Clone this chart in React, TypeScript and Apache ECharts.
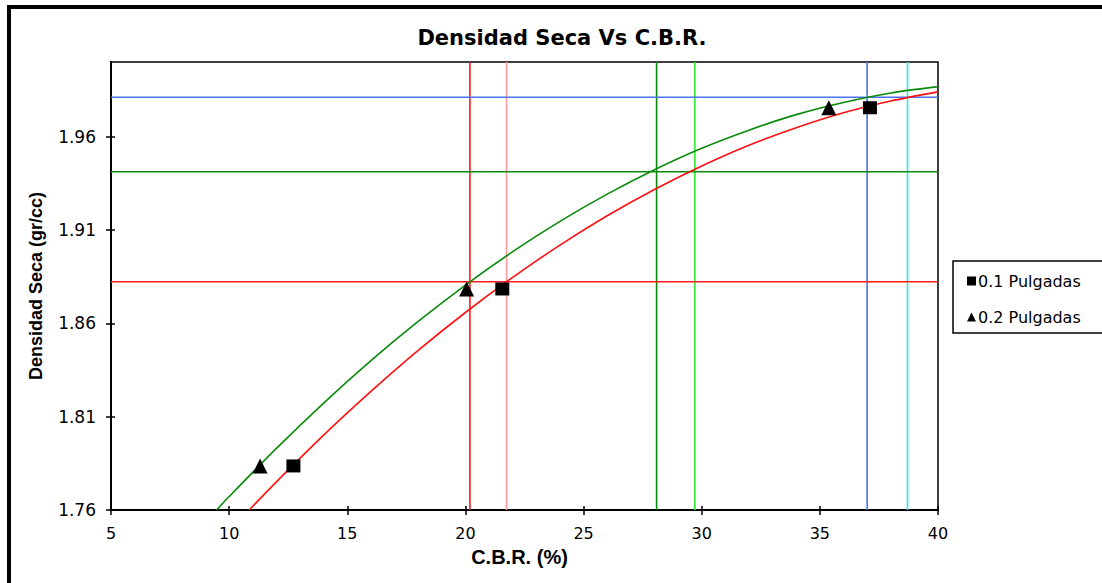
import React, { useEffect, useRef } from "react";
import * as echarts from "echarts";

// Axis ranges and tick labels
const X_MIN = 5;
const X_MAX = 40;
const X_INTERVAL = 5;
const Y_MIN = 1.76;
const Y_MAX = 2.0;
const yTickValues = [1.76, 1.81, 1.86, 1.91, 1.96];

// Measured points
const cbr01 = [12.72, 21.56, 37.12];
const dens01 = [1.7836, 1.8784, 1.9755];
const cbr02 = [11.31, 20.05, 35.38];
const dens02 = [1.7836, 1.8784, 1.9755];

// Trend curves
const curveX01 = [10.85, 12, 14, 16, 18, 20, 22, 24, 26, 28, 30, 32, 34, 36, 38, 40];
const curveY01 = [1.76, 1.7751, 1.8001, 1.8235, 1.8455, 1.8658, 1.8846, 1.9019, 1.9176, 1.9317, 1.9443, 1.9554, 1.9648, 1.9728, 1.9791, 1.984];
const curveX02 = [9.47, 10, 12, 14, 16, 18, 20, 22, 24, 26, 28, 30, 32, 34, 36, 38, 40];
const curveY02 = [1.76, 1.7672, 1.793, 1.8173, 1.84, 1.861, 1.8805, 1.8984, 1.9146, 1.9292, 1.9423, 1.9538, 1.9635, 1.9718, 1.9783, 1.9834, 1.9868];

// Reference lines
const vLineX = [20.19, 21.74, 28.09, 29.71, 37.0, 38.71];
const vLineColors = ["#ff1a1a", "#ff9a9a", "#0a8a0a", "#2ee82e", "#4a72ee", "#22eef0"];
const hLineY = [1.8823, 1.9412, 1.9811];
const hLineColors = ["#ff1a1a", "#0a8a0a", "#4a72ee"];

const FONT = "DejaVu Sans";

export default function App() {
  const ref = useRef<HTMLDivElement>(null);

  useEffect(() => {
    if (!ref.current) return;
    const chart = echarts.init(ref.current, undefined, { renderer: "svg" });

    const refSeries: any[] = [];
    vLineX.forEach((x, i) => {
      refSeries.push({
        type: "line",
        name: "v" + i,
        data: [[x, Y_MIN], [x, Y_MAX]],
        symbol: "none",
        lineStyle: { color: vLineColors[i], width: 1.6 },
        silent: true,
        z: 1,
      });
    });
    hLineY.forEach((y, i) => {
      refSeries.push({
        type: "line",
        name: "h" + i,
        data: [[X_MIN, y], [X_MAX, y]],
        symbol: "none",
        lineStyle: { color: hLineColors[i], width: 1.6 },
        silent: true,
        z: 1,
      });
    });

    const baseAxisLabel = { color: "#000", fontFamily: FONT, fontSize: 16 };

    chart.setOption({
      animation: false,
      backgroundColor: "#fff",
      title: {
        text: "Densidad Seca Vs C.B.R.",
        left: 557,
        top: 22,
        textAlign: "center",
        textStyle: { fontFamily: FONT, fontWeight: "bold", fontSize: 21, color: "#000" },
      },
      graphic: [
        {
          type: "rect",
          shape: { x: 9, y: 7, width: 1130, height: 620 },
          style: { fill: "none", stroke: "#000", lineWidth: 4 },
          silent: true,
        },
      ],
      grid: {
        left: 111,
        top: 62,
        right: 164,
        bottom: 73,
        show: true,
        borderColor: "#000",
        borderWidth: 1.5,
        backgroundColor: "#fff",
      },
      legend: {
        left: 953,
        top: 261,
        orient: "vertical",
        padding: [12, 60, 8, 14],
        itemGap: 20,
        itemWidth: 9,
        itemHeight: 9,
        borderColor: "#000",
        borderWidth: 1.5,
        backgroundColor: "#fff",
        textStyle: { color: "#000", fontFamily: FONT, fontSize: 16, padding: [0, 0, 0, -3] },
        data: [
          { name: "0.1 Pulgadas", icon: "rect" },
          { name: "0.2 Pulgadas", icon: "triangle" },
        ],
      },
      xAxis: [
        {
          type: "value",
          min: X_MIN,
          max: X_MAX,
          interval: X_INTERVAL,
          position: "bottom",
          axisLine: { show: true, lineStyle: { color: "#000", width: 2 } },
          axisTick: { show: true, inside: false, length: 5, lineStyle: { color: "#000", width: 1.5 } },
          axisLabel: { ...baseAxisLabel, margin: 15 },
          splitLine: { show: false },
          name: "C.B.R. (%)",
          nameLocation: "middle",
          nameGap: 37,
          nameTextStyle: { color: "#000", fontFamily: "Liberation Sans", fontWeight: "bold", fontSize: 20, padding: [0, 10, 0, 0] },
        },
        {
          type: "value",
          min: X_MIN,
          max: X_MAX,
          interval: X_INTERVAL,
          position: "bottom",
          axisLine: { show: false },
          axisTick: { show: true, inside: true, length: 4, lineStyle: { color: "#000", width: 1.5 } },
          axisLabel: { show: false },
          splitLine: { show: false },
        },
      ],
      yAxis: [
        {
          type: "value",
          min: Y_MIN,
          max: Y_MAX,
          position: "left",
          axisLine: { show: true, lineStyle: { color: "#000", width: 2 } },
          axisTick: { show: true, inside: false, length: 5, customValues: yTickValues, lineStyle: { color: "#000", width: 1.5 } },
          axisLabel: {
            ...baseAxisLabel,
            fontSize: 17,
            margin: 15,
            customValues: yTickValues,
            formatter: (v: number) => v.toFixed(2),
          },
          splitLine: { show: false },
          name: "Densidad Seca (gr/cc)",
          nameLocation: "middle",
          nameGap: 66,
          nameRotate: 90,
          nameTextStyle: { color: "#000", fontFamily: "Liberation Sans", fontWeight: "bold", fontSize: 18 },
        },
        {
          type: "value",
          min: Y_MIN,
          max: Y_MAX,
          position: "left",
          axisLine: { show: false },
          axisTick: { show: true, inside: true, length: 4, customValues: yTickValues, lineStyle: { color: "#000", width: 1.5 } },
          axisLabel: { show: false },
          splitLine: { show: false },
        },
      ],
      series: [
        ...refSeries,
        {
          type: "line",
          name: "Tendencia 0.1",
          data: curveX01.map((x, i) => [x, curveY01[i]]),
          symbol: "none",
          smooth: 0.3,
          lineStyle: { color: "#ff1010", width: 1.6 },
          z: 2,
          silent: true,
        },
        {
          type: "line",
          name: "Tendencia 0.2",
          data: curveX02.map((x, i) => [x, curveY02[i]]),
          symbol: "none",
          smooth: 0.3,
          lineStyle: { color: "#0a8a0a", width: 1.6 },
          z: 2,
          silent: true,
        },
        {
          type: "scatter",
          name: "0.1 Pulgadas",
          data: cbr01.map((x, i) => [x, dens01[i]]),
          symbol: "rect",
          symbolSize: [14, 13],
          itemStyle: { color: "#000", opacity: 1 },
          z: 3,
        },
        {
          type: "scatter",
          name: "0.2 Pulgadas",
          data: cbr02.map((x, i) => [x, dens02[i]]),
          symbol: "triangle",
          symbolSize: 15,
          itemStyle: { color: "#000", opacity: 1 },
          z: 3,
        },
      ],
    });

    return () => chart.dispose();
  }, []);

  return (
    <div
      ref={ref}
      style={{ position: "fixed", left: 0, top: 0, width: 1102, height: 583, background: "#fff" }}
    />
  );
}
